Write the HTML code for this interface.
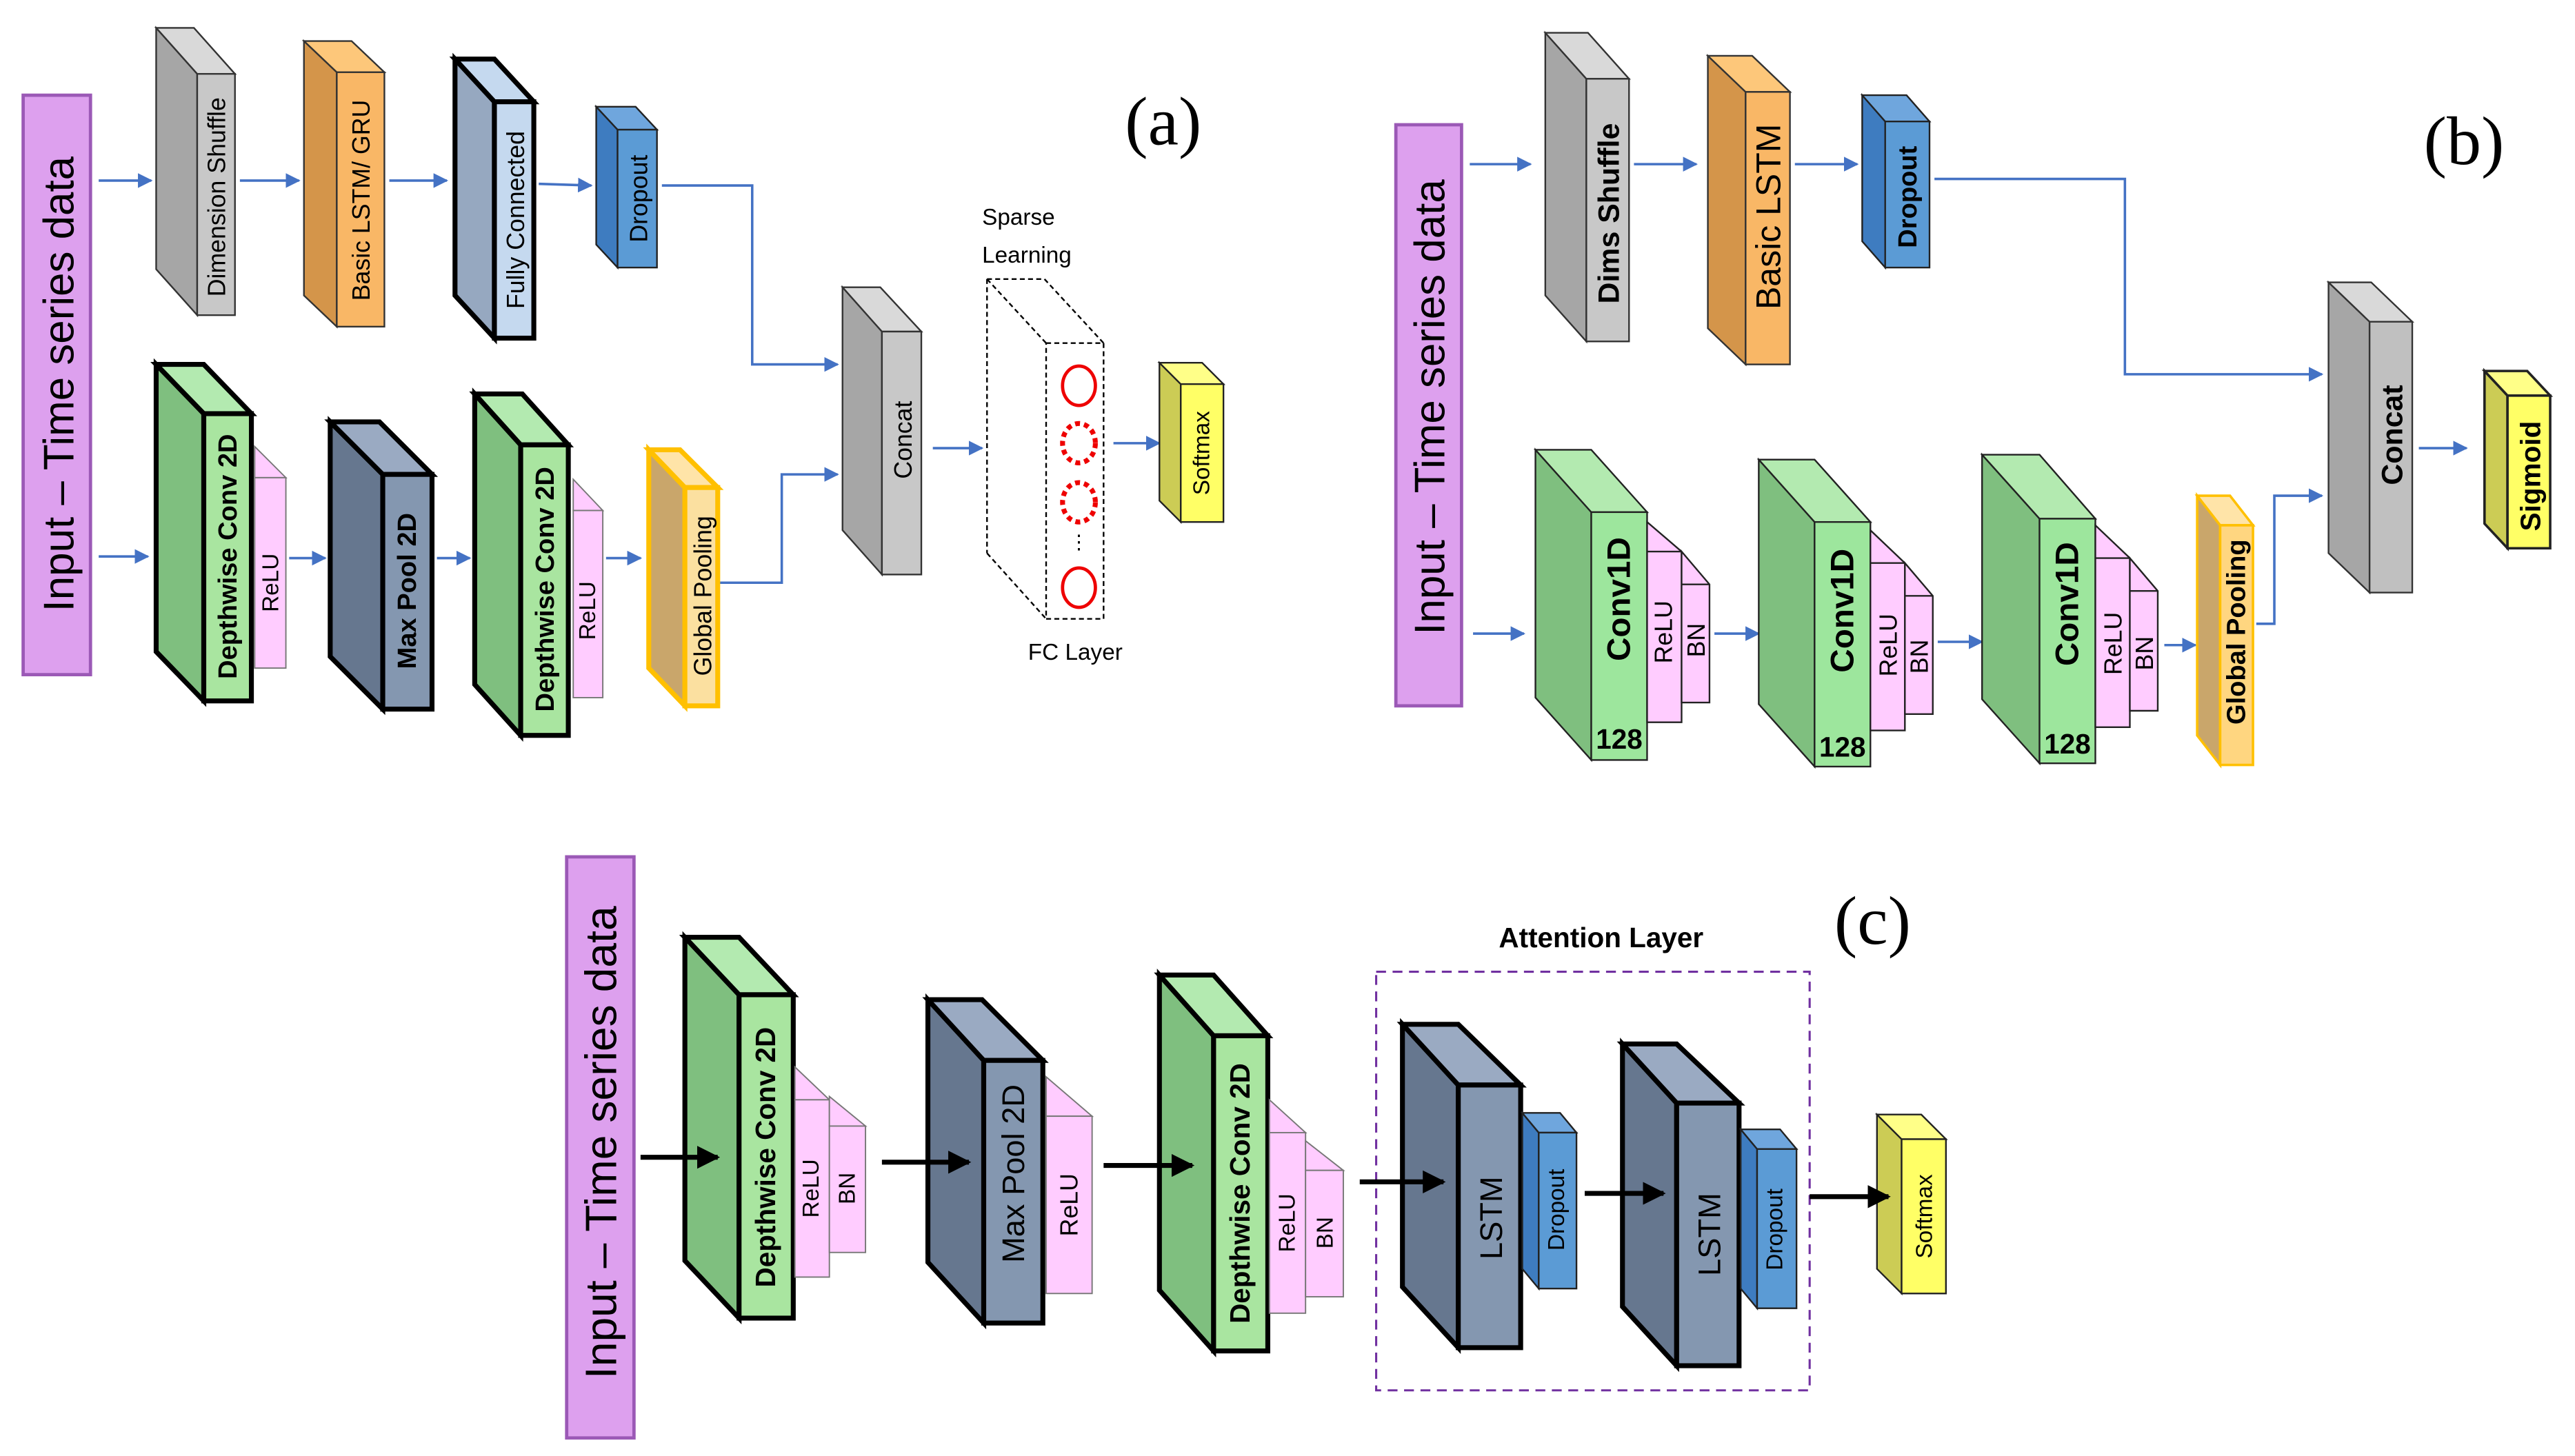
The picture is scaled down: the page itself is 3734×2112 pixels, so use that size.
<!DOCTYPE html>
<html><head><meta charset="utf-8"><style>
html,body{margin:0;padding:0;background:#fff}
svg{display:block}
text{font-family:"Liberation Sans",sans-serif}
text.serif{font-family:"Liberation Serif",serif}
</style></head><body>
<svg width="3734" height="2112" viewBox="0 0 1568 887" xmlns="http://www.w3.org/2000/svg">
<defs>
<marker id="ab" viewBox="0 0 10 10" refX="9" refY="5" markerWidth="9" markerHeight="10" orient="auto" markerUnits="userSpaceOnUse"><path d="M0,0L10,5L0,10z" fill="#4472c4"/></marker>
<marker id="ak" viewBox="0 0 10 10" refX="9" refY="5" markerWidth="14" markerHeight="14" orient="auto" markerUnits="userSpaceOnUse"><path d="M0,0L10,5L0,10z" fill="#000"/></marker>
</defs>
<rect width="1568" height="887" fill="#fff"/>

<!-- ================= (a) ================= -->
<rect x="14" y="58" width="41" height="353" fill="#dda0ee" stroke="#9b59b6" stroke-width="2"/>
<text transform="translate(36,234) rotate(-90)" text-anchor="middle" dominant-baseline="central" font-size="26">Input – Time series data</text>

<g stroke="#4472c4" stroke-width="1.5" fill="none">
<line x1="60" y1="110" x2="92" y2="110" marker-end="url(#ab)"/>
<line x1="146" y1="110" x2="182" y2="110" marker-end="url(#ab)"/>
<line x1="237" y1="110" x2="272" y2="110" marker-end="url(#ab)"/>
<line x1="328" y1="112" x2="360" y2="113" marker-end="url(#ab)"/>
<polyline points="403,113 458,113 458,222 510,222" marker-end="url(#ab)"/>
<line x1="60" y1="339" x2="90" y2="339" marker-end="url(#ab)"/>
<line x1="176" y1="340" x2="198" y2="340" marker-end="url(#ab)"/>
<line x1="266" y1="340" x2="286" y2="340" marker-end="url(#ab)"/>
<line x1="369" y1="340" x2="390" y2="340" marker-end="url(#ab)"/>
<polyline points="438,355 476,355 476,289 510,289" marker-end="url(#ab)"/>
<line x1="568" y1="273" x2="598" y2="273" marker-end="url(#ab)"/>
<line x1="678" y1="270" x2="706" y2="270" marker-end="url(#ab)"/>
</g>

<!-- Dimension Shuffle -->
<g stroke="#333" stroke-width="1">
<polygon points="95,17 120,45 120,192 95,164" fill="#a6a6a6"/>
<polygon points="95,17 118,17 143,45 120,45" fill="#d9d9d9"/>
<rect x="120" y="45" width="23" height="147" fill="#c8c8c8"/>
</g>
<text transform="translate(132,120) rotate(-90)" text-anchor="middle" dominant-baseline="central" font-size="15">Dimension Shuffle</text>
<!-- Basic LSTM/GRU -->
<g stroke="#333" stroke-width="1">
<polygon points="185,25 205,44 205,199 185,180" fill="#d4954a"/>
<polygon points="185,25 214,25 234,44 205,44" fill="#fdc77a"/>
<rect x="205" y="44" width="29" height="155" fill="#f9b766"/>
</g>
<text transform="translate(220,122) rotate(-90)" text-anchor="middle" dominant-baseline="central" font-size="15">Basic LSTM/ GRU</text>
<!-- Fully Connected -->
<g stroke="#000" stroke-width="3">
<polygon points="277,36 301,62 301,206 277,180" fill="#96a8c0"/>
<polygon points="277,36 301,36 325,62 301,62" fill="#c5d9ef"/>
<rect x="301" y="62" width="24" height="144" fill="#c5d9ef"/>
</g>
<text transform="translate(314,134) rotate(-90)" text-anchor="middle" dominant-baseline="central" font-size="15">Fully Connected</text>
<!-- Dropout -->
<g stroke="#222" stroke-width="1">
<polygon points="363,65 376,79 376,163 363,149" fill="#3e7cc0"/>
<polygon points="363,65 387,65 400,79 376,79" fill="#6fa6dd"/>
<rect x="376" y="79" width="24" height="84" fill="#5b9bd5"/>
</g>
<text transform="translate(389,121) rotate(-90)" text-anchor="middle" dominant-baseline="central" font-size="15">Dropout</text>

<!-- DW conv 1 -->
<g stroke="#000" stroke-width="3">
<polygon points="95,222 124,252 124,427 95,397" fill="#7fbf7f"/>
<polygon points="95,222 124,222 153,252 124,252" fill="#b3eab0"/>
<rect x="124" y="252" width="29" height="175" fill="#a9e5a0"/>
</g>
<g stroke="#777" stroke-width="0.8" fill="#ffccff"><polygon points="155,272 174,291 155,291"/><rect x="155" y="291" width="19" height="116"/></g>
<text transform="translate(139,339) rotate(-90)" text-anchor="middle" dominant-baseline="central" font-size="16" font-weight="bold">Depthwise Conv 2D</text>
<text transform="translate(165,355) rotate(-90)" text-anchor="middle" dominant-baseline="central" font-size="14">ReLU</text>
<!-- Max Pool -->
<g stroke="#000" stroke-width="3">
<polygon points="201,257 233,289 233,432 201,400" fill="#66778f"/>
<polygon points="201,257 231,257 263,289 233,289" fill="#9aaac2"/>
<rect x="233" y="289" width="30" height="143" fill="#8497b0"/>
</g>
<text transform="translate(248,360) rotate(-90)" text-anchor="middle" dominant-baseline="central" font-size="16" font-weight="bold">Max Pool 2D</text>
<!-- DW conv 2 -->
<g stroke="#000" stroke-width="3">
<polygon points="289,240 317,271 317,448 289,417" fill="#7fbf7f"/>
<polygon points="289,240 318,240 346,271 317,271" fill="#b3eab0"/>
<rect x="317" y="271" width="29" height="177" fill="#a9e5a0"/>
</g>
<g stroke="#777" stroke-width="0.8" fill="#ffccff"><polygon points="349,292 367,311 349,311"/><rect x="349" y="311" width="18" height="114"/></g>
<text transform="translate(332,359) rotate(-90)" text-anchor="middle" dominant-baseline="central" font-size="16" font-weight="bold">Depthwise Conv 2D</text>
<text transform="translate(358,372) rotate(-90)" text-anchor="middle" dominant-baseline="central" font-size="14">ReLU</text>
<!-- Global Pooling -->
<g stroke="#ffc000" stroke-width="3">
<polygon points="395,274 417,297 417,430 395,407" fill="#c9a66b"/>
<polygon points="395,274 414,274 437,297 417,297" fill="#ffe4a8"/>
<rect x="417" y="297" width="20" height="133" fill="#fbe0a0"/>
</g>
<text transform="translate(428,363) rotate(-90)" text-anchor="middle" dominant-baseline="central" font-size="15">Global Pooling</text>

<!-- Concat -->
<g stroke="#333" stroke-width="1">
<polygon points="513,175 537,202 537,350 513,323" fill="#a6a6a6"/>
<polygon points="513,175 536,175 561,202 537,202" fill="#d9d9d9"/>
<rect x="537" y="202" width="24" height="148" fill="#c8c8c8"/>
</g>
<text transform="translate(550,268) rotate(-90)" text-anchor="middle" dominant-baseline="central" font-size="15">Concat</text>

<!-- FC layer -->
<g stroke="#000" stroke-width="1" stroke-dasharray="3,2" fill="none">
<polyline points="601,170 637,209"/>
<polyline points="601,170 636,170 672,209"/>
<line x1="601" y1="170" x2="601" y2="337"/>
<line x1="601" y1="337" x2="637" y2="377"/>
<rect x="637" y="209" width="35" height="168"/>
</g>
<g fill="none" stroke="#e00" stroke-width="2">
<ellipse cx="657" cy="235" rx="10" ry="12"/>
<ellipse cx="657" cy="270" rx="10" ry="12" stroke-dasharray="3,2.5" stroke-width="3"/>
<ellipse cx="657" cy="306" rx="10" ry="12" stroke-dasharray="3,2.5" stroke-width="3"/>
<ellipse cx="657" cy="358" rx="10" ry="12"/>
</g>
<text x="657" y="334" text-anchor="middle" font-size="12">⋮</text>
<text x="598" y="137" font-size="14">Sparse</text>
<text x="598" y="160" font-size="14">Learning</text>
<text x="626" y="402" font-size="14">FC Layer</text>

<!-- Softmax -->
<g stroke="#222" stroke-width="1">
<polygon points="706,221 719,234 719,318 706,305" fill="#cccc55"/>
<polygon points="706,221 732,221 745,234 719,234" fill="#ffff88"/>
<rect x="719" y="234" width="26" height="84" fill="#ffff66"/>
</g>
<text transform="translate(732,276) rotate(-90)" text-anchor="middle" dominant-baseline="central" font-size="14">Softmax</text>
<text class="serif" x="685" y="88" font-size="42">(a)</text>

<!-- ================= (b) ================= -->
<rect x="850" y="76" width="40" height="354" fill="#dda0ee" stroke="#9b59b6" stroke-width="2"/>
<text transform="translate(871,248) rotate(-90)" text-anchor="middle" dominant-baseline="central" font-size="26">Input – Time series data</text>
<g stroke="#4472c4" stroke-width="1.5" fill="none">
<line x1="895" y1="100" x2="932" y2="100" marker-end="url(#ab)"/>
<line x1="995" y1="100" x2="1033" y2="100" marker-end="url(#ab)"/>
<line x1="1093" y1="100" x2="1131" y2="100" marker-end="url(#ab)"/>
<polyline points="1178,109 1294,109 1294,228 1414,228" marker-end="url(#ab)"/>
<line x1="897" y1="386" x2="928" y2="386" marker-end="url(#ab)"/>
<line x1="1044" y1="386" x2="1071" y2="386" marker-end="url(#ab)"/>
<line x1="1180" y1="391" x2="1207" y2="391" marker-end="url(#ab)"/>
<line x1="1318" y1="393" x2="1337" y2="393" marker-end="url(#ab)"/>
<polyline points="1374,380 1385,380 1385,302 1414,302" marker-end="url(#ab)"/>
<line x1="1473" y1="273" x2="1502" y2="273" marker-end="url(#ab)"/>
</g>
<!-- Dims Shuffle -->
<g stroke="#333" stroke-width="1">
<polygon points="941,20 966,48 966,208 941,180" fill="#a6a6a6"/>
<polygon points="941,20 967,20 992,48 966,48" fill="#d9d9d9"/>
<rect x="966" y="48" width="26" height="160" fill="#c8c8c8"/>
</g>
<text transform="translate(980,130) rotate(-90)" text-anchor="middle" dominant-baseline="central" font-size="18" font-weight="bold">Dims Shuffle</text>
<!-- Basic LSTM -->
<g stroke="#333" stroke-width="1">
<polygon points="1040,34 1063,56 1063,222 1040,200" fill="#d4954a"/>
<polygon points="1040,34 1067,34 1090,56 1063,56" fill="#fdc77a"/>
<rect x="1063" y="56" width="27" height="166" fill="#f9b766"/>
</g>
<text transform="translate(1077,132) rotate(-90)" text-anchor="middle" dominant-baseline="central" font-size="21">Basic LSTM</text>
<!-- Dropout -->
<g stroke="#222" stroke-width="1">
<polygon points="1134,58 1148,74 1148,163 1134,147" fill="#3e7cc0"/>
<polygon points="1134,58 1161,58 1175,74 1148,74" fill="#6fa6dd"/>
<rect x="1148" y="74" width="27" height="89" fill="#5b9bd5"/>
</g>
<text transform="translate(1162,120) rotate(-90)" text-anchor="middle" dominant-baseline="central" font-size="16" font-weight="bold">Dropout</text>

<!-- Conv1D x3 -->
<g stroke="#222" stroke-width="1">
<polygon points="935,274 969,312 969,463 935,425" fill="#7fbf7f"/>
<polygon points="935,274 969,274 1003,312 969,312" fill="#b3eab0"/>
<rect x="969" y="312" width="34" height="151" fill="#9de69d"/>
<polygon points="1003,318 1024,336 1024,440 1003,440" fill="#ffccff"/>
<polygon points="1024,336 1041,356 1041,428 1024,428" fill="#ffccff"/>
<line x1="1003" y1="336" x2="1024" y2="336"/><line x1="1024" y1="356" x2="1041" y2="356"/>

<polygon points="1071,280 1105,318 1105,467 1071,429" fill="#7fbf7f"/>
<polygon points="1071,280 1105,280 1139,318 1105,318" fill="#b3eab0"/>
<rect x="1105" y="318" width="34" height="149" fill="#9de69d"/>
<polygon points="1139,323 1160,343 1160,445 1139,445" fill="#ffccff"/>
<polygon points="1160,343 1177,363 1177,435 1160,435" fill="#ffccff"/>
<line x1="1139" y1="343" x2="1160" y2="343"/><line x1="1160" y1="363" x2="1177" y2="363"/>

<polygon points="1207,277 1242,316 1242,465 1207,426" fill="#7fbf7f"/>
<polygon points="1207,277 1242,277 1276,316 1242,316" fill="#b3eab0"/>
<rect x="1242" y="316" width="34" height="149" fill="#9de69d"/>
<polygon points="1276,320 1297,340 1297,443 1276,443" fill="#ffccff"/>
<polygon points="1297,340 1314,360 1314,433 1297,433" fill="#ffccff"/>
<line x1="1276" y1="340" x2="1297" y2="340"/><line x1="1297" y1="360" x2="1314" y2="360"/>
</g>
<g font-weight="bold" text-anchor="middle" dominant-baseline="central">
<text transform="translate(986,365) rotate(-90)" font-size="20">Conv1D</text>
<text transform="translate(1122,372) rotate(-90)" font-size="20">Conv1D</text>
<text transform="translate(1259,368) rotate(-90)" font-size="20">Conv1D</text>
</g>
<g text-anchor="middle" dominant-baseline="central" font-size="15">
<text transform="translate(1013,385) rotate(-90)">ReLU</text>
<text transform="translate(1033,390) rotate(-90)">BN</text>
<text transform="translate(1150,393) rotate(-90)">ReLU</text>
<text transform="translate(1169,400) rotate(-90)">BN</text>
<text transform="translate(1287,392) rotate(-90)">ReLU</text>
<text transform="translate(1306,398) rotate(-90)">BN</text>
</g>
<g font-size="17" font-weight="bold" text-anchor="middle">
<text x="986" y="456">128</text><text x="1122" y="461">128</text><text x="1259" y="459">128</text>
</g>
<!-- Global pooling b -->
<g stroke="#ffc000" stroke-width="1.5">
<polygon points="1338,302 1352,320 1352,466 1338,448" fill="#c9a66b"/>
<polygon points="1338,302 1358,302 1372,320 1352,320" fill="#ffe4a8"/>
<rect x="1352" y="320" width="20" height="146" fill="#ffd680"/>
</g>
<text transform="translate(1362,385) rotate(-90)" text-anchor="middle" dominant-baseline="central" font-size="16" font-weight="bold">Global Pooling</text>
<!-- Concat b -->
<g stroke="#333" stroke-width="1">
<polygon points="1418,172 1443,196 1443,361 1418,337" fill="#a6a6a6"/>
<polygon points="1418,172 1444,172 1469,196 1443,196" fill="#d9d9d9"/>
<rect x="1443" y="196" width="26" height="165" fill="#c0c0c0"/>
</g>
<text transform="translate(1457,265) rotate(-90)" text-anchor="middle" dominant-baseline="central" font-size="18" font-weight="bold">Concat</text>
<!-- Sigmoid -->
<g stroke="#222" stroke-width="1.5">
<polygon points="1513,226 1527,241 1527,334 1513,319" fill="#cccc55"/>
<polygon points="1513,226 1539,226 1553,241 1527,241" fill="#ffff88"/>
<rect x="1527" y="241" width="26" height="93" fill="#ffff66"/>
</g>
<text transform="translate(1541,290) rotate(-90)" text-anchor="middle" dominant-baseline="central" font-size="17" font-weight="bold">Sigmoid</text>
<text class="serif" x="1476" y="100" font-size="42">(b)</text>

<!-- ================= (c) ================= -->
<rect x="345" y="522" width="41" height="354" fill="#dda0ee" stroke="#9b59b6" stroke-width="2"/>
<text transform="translate(366,696) rotate(-90)" text-anchor="middle" dominant-baseline="central" font-size="27">Input – Time series data</text>
<!-- DW conv c1 -->
<g stroke="#000" stroke-width="3">
<polygon points="417,571 450,606 450,803 417,768" fill="#7fbf7f"/>
<polygon points="417,571 450,571 483,606 450,606" fill="#b3eab0"/>
<rect x="450" y="606" width="33" height="197" fill="#a9e5a0"/>
</g>
<g stroke="#777" stroke-width="0.8" fill="#ffccff">
<polygon points="484,650 505,670 484,670"/><rect x="484" y="670" width="21" height="108"/>
<polygon points="505,668 527,686 505,686"/><rect x="505" y="686" width="22" height="77"/>
</g>
<text transform="translate(466,705) rotate(-90)" text-anchor="middle" dominant-baseline="central" font-size="17" font-weight="bold">Depthwise Conv 2D</text>
<text transform="translate(494,724) rotate(-90)" text-anchor="middle" dominant-baseline="central" font-size="14">ReLU</text>
<text transform="translate(516,724) rotate(-90)" text-anchor="middle" dominant-baseline="central" font-size="14">BN</text>
<!-- Max pool c -->
<g stroke="#000" stroke-width="3">
<polygon points="565,609 599,646 599,806 565,769" fill="#66778f"/>
<polygon points="565,609 598,609 635,646 599,646" fill="#9aaac2"/>
<rect x="599" y="646" width="36" height="160" fill="#8497b0"/>
</g>
<g stroke="#777" stroke-width="0.8" fill="#ffccff"><polygon points="637,656 665,680 637,680"/><rect x="637" y="680" width="28" height="108"/></g>
<text transform="translate(617,715) rotate(-90)" text-anchor="middle" dominant-baseline="central" font-size="19">Max Pool 2D</text>
<text transform="translate(651,734) rotate(-90)" text-anchor="middle" dominant-baseline="central" font-size="15">ReLU</text>
<!-- DW conv c2 -->
<g stroke="#000" stroke-width="3">
<polygon points="706,594 739,631 739,823 706,786" fill="#7fbf7f"/>
<polygon points="706,594 739,594 772,631 739,631" fill="#b3eab0"/>
<rect x="739" y="631" width="33" height="192" fill="#a9e5a0"/>
</g>
<g stroke="#777" stroke-width="0.8" fill="#ffccff">
<polygon points="773,670 795,690 773,690"/><rect x="773" y="690" width="22" height="110"/>
<polygon points="795,695 818,713 795,713"/><rect x="795" y="713" width="23" height="77"/>
</g>
<text transform="translate(755,727) rotate(-90)" text-anchor="middle" dominant-baseline="central" font-size="17" font-weight="bold">Depthwise Conv 2D</text>
<text transform="translate(784,745) rotate(-90)" text-anchor="middle" dominant-baseline="central" font-size="14">ReLU</text>
<text transform="translate(807,751) rotate(-90)" text-anchor="middle" dominant-baseline="central" font-size="14">BN</text>
<!-- Attention -->
<rect x="838" y="592" width="264" height="255" fill="none" stroke="#7030a0" stroke-width="1.3" stroke-dasharray="6,4"/>
<text x="975" y="577" text-anchor="middle" font-size="17" font-weight="bold">Attention Layer</text>
<g stroke="#000" stroke-width="3">
<polygon points="854,624 888,661 888,821 854,784" fill="#66778f"/>
<polygon points="854,624 888,624 926,661 888,661" fill="#9aaac2"/>
<rect x="888" y="661" width="38" height="160" fill="#8497b0"/>
<polygon points="988,636 1021,672 1021,832 988,796" fill="#66778f"/>
<polygon points="988,636 1021,636 1059,672 1021,672" fill="#9aaac2"/>
<rect x="1021" y="672" width="38" height="160" fill="#8497b0"/>
</g>
<g stroke="#222" stroke-width="1">
<polygon points="927,678 937,690 937,785 927,773" fill="#3e7cc0"/>
<polygon points="927,678 950,678 960,690 937,690" fill="#6fa6dd"/>
<rect x="937" y="690" width="23" height="95" fill="#5b9bd5"/>
<polygon points="1060,688 1070,700 1070,797 1060,785" fill="#3e7cc0"/>
<polygon points="1060,688 1084,688 1094,700 1070,700" fill="#6fa6dd"/>
<rect x="1070" y="700" width="24" height="97" fill="#5b9bd5"/>
</g>
<text transform="translate(908,742) rotate(-90)" text-anchor="middle" dominant-baseline="central" font-size="19">LSTM</text>
<text transform="translate(1041,752) rotate(-90)" text-anchor="middle" dominant-baseline="central" font-size="19">LSTM</text>
<text transform="translate(948,737) rotate(-90)" text-anchor="middle" dominant-baseline="central" font-size="14">Dropout</text>
<text transform="translate(1081,749) rotate(-90)" text-anchor="middle" dominant-baseline="central" font-size="14">Dropout</text>
<!-- Softmax c -->
<g stroke="#222" stroke-width="1">
<polygon points="1143,679 1158,694 1158,788 1143,773" fill="#cccc55"/>
<polygon points="1143,679 1170,679 1185,694 1158,694" fill="#ffff88"/>
<rect x="1158" y="694" width="27" height="94" fill="#ffff66"/>
</g>
<text transform="translate(1172,741) rotate(-90)" text-anchor="middle" dominant-baseline="central" font-size="14">Softmax</text>
<text class="serif" x="1117" y="575" font-size="42">(c)</text>
<!-- black arrows on top -->
<g stroke="#000" stroke-width="3" fill="none">
<line x1="390" y1="705" x2="437" y2="705" marker-end="url(#ak)"/>
<line x1="537" y1="708" x2="590" y2="708" marker-end="url(#ak)"/>
<line x1="672" y1="710" x2="726" y2="710" marker-end="url(#ak)"/>
<line x1="828" y1="720" x2="879" y2="720" marker-end="url(#ak)"/>
<line x1="965" y1="727" x2="1013" y2="727" marker-end="url(#ak)"/>
<line x1="1102" y1="729" x2="1150" y2="729" marker-end="url(#ak)"/>
</g>
</svg>
</body></html>
